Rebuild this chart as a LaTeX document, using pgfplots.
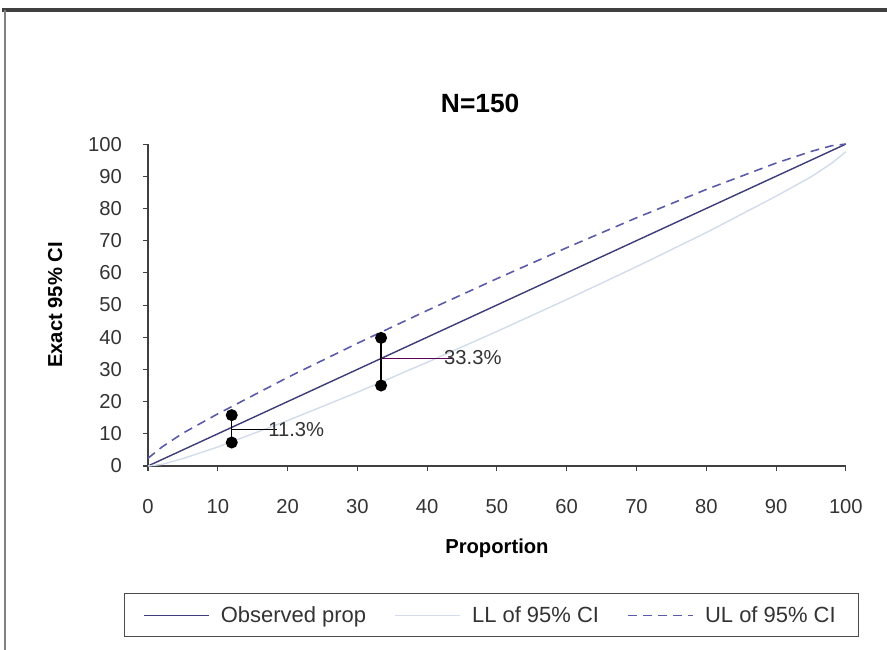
\documentclass[border=0pt]{standalone}
\usepackage{pgfplots}
\pgfplotsset{compat=1.18}
\usepackage{fontspec}
\setmainfont{Liberation Sans}
\definecolor{obsline}{HTML}{3C3C78}
\definecolor{ulline}{HTML}{5A5AA8}
\definecolor{llline}{HTML}{D2DCEA}
\definecolor{frame}{HTML}{404040}
\begin{document}
\begin{tikzpicture}[x=0.02cm,y=0.02cm]
  % page = 887 x 650 px, axis origin at px (148,466)
  \useasboundingbox (-148,-184) rectangle (739,466);
  \draw[frame, line width=2.2pt] (-146,456) -- (739,456);
  \draw[gray, line width=1.2pt] (-143,456) -- (-143,-184);
  \begin{axis}[
    at={(0,0)}, anchor=origin,
    scale only axis,
    width=13.96cm, height=6.44cm,
    xmin=0, xmax=100, ymin=0, ymax=100,
    xtick={0,10,...,100}, ytick={0,10,...,100},
    axis lines=left,
    axis line style={-, black!75, line width=0.6pt},
    tick align=outside,
    major tick length=0.1cm,
    tick style={black!75, line width=0.6pt},
    xticklabel style={yshift=-0.45cm},
    yticklabel style={xshift=-0.3cm},
    tick label style={font=\fontsize{11.5}{13}\selectfont, text=black!80},
    /pgf/number format/assume math mode=true,
    title={\bfseries N=150},
    title style={at={(0.476,1.093)}, anchor=center, font=\fontsize{15}{17}\selectfont},
    xlabel={\bfseries Proportion},
    xlabel style={at={(0.5,-0.255)}, anchor=center, font=\fontsize{11.5}{13}\selectfont},
    ylabel={\bfseries Exact 95\% CI},
    ylabel style={at={(-0.133,0.5)}, anchor=center, rotate=0, font=\fontsize{11.5}{13}\selectfont},
    legend columns=3,
    legend style={at={(0.492,-0.464)}, anchor=center,
      draw=black!70, line width=0.6pt,
      font=\fontsize{12.5}{14}\selectfont,
      text=black!80,
      inner xsep=11pt, inner ysep=5pt,
      /tikz/every even column/.append style={column sep=0.5cm}},
    legend image code/.code={\draw[#1] (0cm,0cm) -- (1.3cm,0cm); \path (1.45cm,0cm);},
    clip=false,
  ]
    \addplot[obsline, line width=0.8pt] coordinates {(0,0) (100,100)};
    \addlegendentry{Observed prop}
    \addplot[llline, line width=0.8pt] coordinates {
      (0,0) (2,0.5) (5,2.3) (10,5.9) (20,14.1) (30,22.9) (40,32.2) (50,41.8)
      (60,51.7) (70,61.9) (80,72.5) (90,83.8) (95,89.8) (98,94.1) (100,97.6)};
    \addlegendentry{LL of 95\% CI}
    \addplot[ulline, line width=0.9pt, dash pattern=on 5pt off 3.5pt] coordinates {
      (0,2.4) (2,5.9) (5,10.2) (10,16.2) (20,27.5) (30,38.1) (40,48.3) (50,58.2)
      (60,67.8) (70,77.1) (80,85.9) (90,94.1) (95,97.7) (98,99.5) (100,100)};
    \addlegendentry{UL of 95\% CI}
    % highlighted intervals
    \addplot[black, line width=0.8pt, mark=*, mark size=3pt, forget plot] coordinates {(12,7.3) (12,15.8)};
    \addplot[black, line width=0.7pt, forget plot] coordinates {(12,11.3) (18.5,11.3)};
    \addplot[black, line width=0.8pt, mark=*, mark size=3pt, forget plot] coordinates {(33.4,25.0) (33.4,39.8)};
    \addplot[violet!70!black, line width=0.5pt, forget plot] coordinates {(33.4,33.5) (43.5,33.5)};
    \node[anchor=west, inner sep=0pt, text=black!80, font=\fontsize{11.5}{13}\selectfont] at (axis cs:17.2,11.3) {11.3\%};
    \node[anchor=west, inner sep=0pt, text=black!80, font=\fontsize{11.5}{13}\selectfont] at (axis cs:42.4,33.6) {33.3\%};
  \end{axis}
\end{tikzpicture}
\end{document}
